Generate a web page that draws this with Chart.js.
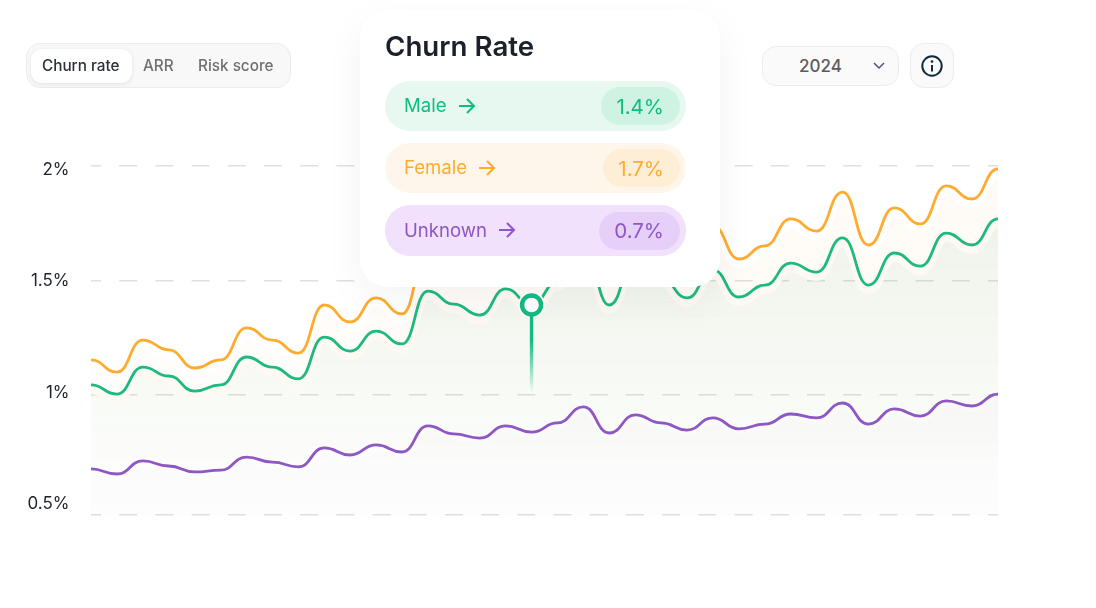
<!DOCTYPE html>
<html>
<head>
<meta charset="utf-8">
<script src="https://cdn.jsdelivr.net/npm/chart.js@4/dist/chart.umd.min.js"></script>
<style>
    html, body { margin: 0; padding: 0; background: #fff; }
    body { width: 1096px; height: 608px; position: relative; overflow: hidden; font-family: Inter, sans-serif; }
    canvas { position: absolute; left: 0; top: 0; }
    .box { position: absolute; box-sizing: border-box; }
    .txt { position: absolute; white-space: nowrap; line-height: 1; }
    .tabs { left: 26px; top: 43px; width: 265px; height: 45px; background: #f8f8f8; border: 1px solid #ececec; border-radius: 14px; }
    .tab-on { left: 31px; top: 49px; width: 101px; height: 34px; background: #fff; border-radius: 11px; box-shadow: 0 1px 4px rgba(0,0,0,.09); }
    .tab { font-size: 15.3px; font-weight: 500; color: #6f6f6f; top: 58px; }
    .select { left: 762px; top: 46px; width: 137px; height: 40px; background: #fafafa; border: 1px solid #ececec; border-radius: 14px; }
    .info { left: 910px; top: 43px; width: 44px; height: 45px; background: #fafafa; border: 1px solid #ececec; border-radius: 14px; }
    .card { left: 360px; top: 10px; width: 360px; height: 277px; background: #fff; border-radius: 28px; box-shadow: 0 14px 40px rgba(40,40,60,.05); }
    .pill { left: 385px; width: 301px; height: 50px; border-radius: 25px; }
    .inner { height: 38px; border-radius: 19px; }
    .name { font-size: 18.6px; left: 404px; }
    .val { font-size: 20.5px; right: 432px; }
    svg { position: absolute; overflow: visible; }
</style>
</head>
<body>
<canvas id="churnChart" width="1096" height="608"></canvas>

<div class="box tabs"></div>
<div class="box tab-on"></div>
<div class="txt tab" style="left:42px;color:#2b303a">Churn rate</div>
<div class="txt tab" style="left:143px">ARR</div>
<div class="txt tab" style="left:198px">Risk score</div>

<div class="box select"></div>
<div class="txt" style="left:799px;top:58px;font-size:17px;font-weight:500;color:#5c5c5c">2024</div>
<svg style="left:873px;top:62px" width="12" height="8"><path d="M1 1l5 5 5-5" fill="none" stroke="#4d5468" stroke-width="1.5"/></svg>
<div class="box info"></div>
<svg style="left:921px;top:55px" width="22" height="22"><circle cx="11" cy="11" r="9.7" fill="none" stroke="#0f2c3c" stroke-width="2"/><path d="M11 10v6.5" stroke="#0f2c3c" stroke-width="2"/><circle cx="11" cy="6.6" r="1.3" fill="#0f2c3c"/></svg>

<div class="box card"></div>
<div class="txt" style="left:385px;top:33px;font-size:27.7px;font-weight:600;color:#1a202c">Churn Rate</div>

<div class="box pill" style="top:81px;background:#e7f8f0"></div>
<div class="box inner" style="left:601px;top:87px;width:79px;background:#cff3e3"></div>
<div class="txt name" style="top:96px;color:#12bb82">Male</div>
<svg style="left:458px;top:97px" width="18" height="18"><path d="M1 9h15M9 2l7 7-7 7" fill="none" stroke="#12bb82" stroke-width="2"/></svg>
<div class="txt val" style="top:97px;color:#12bb82">1.4%</div>

<div class="box pill" style="top:143px;background:#fff6eb"></div>
<div class="box inner" style="left:603px;top:149px;width:77px;background:#ffeed6"></div>
<div class="txt name" style="top:158px;color:#ffab2e">Female</div>
<svg style="left:478px;top:159px" width="18" height="18"><path d="M1 9h15M9 2l7 7-7 7" fill="none" stroke="#ffab2e" stroke-width="2"/></svg>
<div class="txt val" style="top:159px;color:#ffab2e">1.7%</div>

<div class="box pill" style="top:205px;height:51px;background:#f1e1fc"></div>
<div class="box inner" style="left:599px;top:212px;width:81px;background:#e6cff8"></div>
<div class="txt name" style="top:221px;color:#8e57c4">Unknown</div>
<svg style="left:498px;top:221px" width="18" height="18"><path d="M1 9h15M9 2l7 7-7 7" fill="none" stroke="#8e57c4" stroke-width="2"/></svg>
<div class="txt val" style="top:221px;color:#8e57c4">0.7%</div>

<script>
// Churn rate per period
const female = [
    1.153, 1.100, 1.240, 1.197, 1.118, 1.153, 1.293, 1.240, 1.183, 1.393, 1.319, 1.424,
    1.354, 1.633, 1.572, 1.520, 1.642, 1.568, 1.677, 1.865, 1.581, 1.786, 1.690, 1.611,
    1.738, 1.594, 1.651, 1.769, 1.716, 1.886, 1.655, 1.817, 1.747, 1.913, 1.856, 1.987
];
const male = [
    1.044, 1.004, 1.122, 1.083, 1.017, 1.044, 1.166, 1.122, 1.070, 1.253, 1.192, 1.279,
    1.223, 1.454, 1.397, 1.349, 1.463, 1.393, 1.493, 1.655, 1.393, 1.598, 1.511, 1.424,
    1.546, 1.428, 1.480, 1.576, 1.537, 1.686, 1.480, 1.620, 1.563, 1.707, 1.655, 1.769
];
const unknown = [
    0.677, 0.655, 0.712, 0.690, 0.664, 0.672, 0.729, 0.707, 0.686, 0.769, 0.738, 0.782,
    0.751, 0.865, 0.830, 0.812, 0.865, 0.838, 0.878, 0.948, 0.834, 0.913, 0.878, 0.847,
    0.900, 0.852, 0.873, 0.917, 0.900, 0.965, 0.873, 0.939, 0.908, 0.974, 0.952, 1.004
];

const tickLabels = [2, 1.5, 1, 0.5];
const gridLines = [2, 1.5, 1, 0.476];
const markerPeriod = 17;
const stemEndValue = 1.01;

function toPoints(values) {
    return values.map((v, i) => ({ x: i, y: v }));
}

// vertical fade from the top of the plot to its bottom
function fade(from, to) {
    return function(context) {
        const area = context.chart.chartArea;
        if (!area) return from;
        const g = context.chart.ctx.createLinearGradient(0, area.top, 0, area.bottom);
        g.addColorStop(0, from);
        g.addColorStop(1, to);
        return g;
    };
}

function haloSet(values, fillFrom, fillTo, haloColor, width) {
    return {
        data: toPoints(values),
        isHalo: true,
        borderColor: haloColor,
        borderWidth: width,
        backgroundColor: fade(fillFrom, fillTo),
        fill: 'origin',
        pointRadius: 0,
        cubicInterpolationMode: 'monotone'
    };
}

function lineSet(values, color) {
    return {
        data: toPoints(values),
        borderColor: color,
        borderWidth: 2.8,
        fill: false,
        pointRadius: 0,
        cubicInterpolationMode: 'monotone'
    };
}

// the curves leave every point flat, which no built-in mode does
const flatTangents = {
    id: 'flatTangents',
    beforeDatasetsDraw(chart) {
        chart.getSortedVisibleDatasetMetas().forEach(meta => {
            if (!meta.dataset || meta.data.length < 2) return;
            meta.dataset.updateControlPoints(chart.chartArea, 'x');
            const half = (meta.data[1].x - meta.data[0].x) / 2;
            meta.data.forEach(p => {
                p.cp1x = p.x - half;
                p.cp1y = p.y;
                p.cp2x = p.x + half;
                p.cp2y = p.y;
            });
        });
    }
};

// halos sit a little below their line
const haloShift = {
    id: 'haloShift',
    beforeDatasetDraw(chart, args) {
        if (chart.data.datasets[args.index].isHalo) {
            chart.ctx.save();
            chart.ctx.translate(0, 4);
        }
    },
    afterDatasetDraw(chart, args) {
        if (chart.data.datasets[args.index].isHalo) chart.ctx.restore();
    }
};

// white ring and fading stem under the selected point
const markerStem = {
    id: 'markerStem',
    beforeDatasetDraw(chart, args) {
        if (!chart.data.datasets[args.index].isMarker) return;
        const ctx = chart.ctx;
        const x = chart.scales.x.getPixelForValue(markerPeriod);
        const top = chart.scales.y.getPixelForValue(male[markerPeriod]);
        const bottom = chart.scales.y.getPixelForValue(stemEndValue);
        ctx.save();
        ctx.fillStyle = '#fff';
        ctx.beginPath();
        ctx.arc(x, top, 13.5, 0, Math.PI * 2);
        ctx.fill();
        const g = ctx.createLinearGradient(0, top, 0, bottom);
        g.addColorStop(0, '#12bb82');
        g.addColorStop(0.4, '#12bb82');
        g.addColorStop(1, 'rgba(18,187,130,0)');
        ctx.strokeStyle = g;
        ctx.lineWidth = 3.4;
        ctx.beginPath();
        ctx.moveTo(x, top);
        ctx.lineTo(x, bottom);
        ctx.stroke();
        ctx.restore();
    }
};

const ctx = document.getElementById('churnChart').getContext('2d');
new Chart(ctx, {
    type: 'line',
    data: {
        datasets: [
            Object.assign(haloSet(female, 'rgba(255,165,60,0.06)', 'rgba(255,165,60,0)', 'rgba(255,255,255,0.95)', 10), { order: 6 }),
            Object.assign(lineSet(female, '#ffab2e'), { order: 5 }),
            Object.assign(haloSet(male, 'rgba(40,160,90,0.09)', 'rgba(40,160,90,0)', 'rgba(255,250,243,0.9)', 10), { order: 4 }),
            Object.assign(lineSet(male, '#1cba80'), { order: 3 }),
            Object.assign(haloSet(unknown, 'rgba(120,80,150,0.025)', 'rgba(120,80,150,0.012)', 'rgba(255,255,255,0.3)', 5), { order: 2 }),
            Object.assign(lineSet(unknown, '#8e57c4'), { order: 1 }),
            {
                data: [{ x: markerPeriod, y: male[markerPeriod] }],
                isMarker: true,
                order: 0,
                showLine: false,
                pointRadius: 9.5,
                pointBorderWidth: 4.4,
                pointBackgroundColor: '#fff',
                pointBorderColor: '#12bb82'
            }
        ]
    },
    options: {
        responsive: false,
        animation: false,
        events: [],
        layout: { padding: { left: 0, right: 98, top: 166, bottom: 93 } },
        plugins: { legend: { display: false }, tooltip: { enabled: false } },
        scales: {
            x: { type: 'linear', min: 0, max: 35, display: false },
            y: {
                position: 'left',
                min: 0.476,
                max: 2,
                afterBuildTicks: axis => { axis.ticks = gridLines.map(v => ({ value: v })); },
                ticks: { display: false },
                grid: { color: '#e0e0de', lineWidth: 1.5, drawTicks: false },
                border: { display: false, dash: [18, 18.2], dashOffset: 8 }
            },
            // labels do not line up with the dashes in the picture, so they get their own axis
            labels: {
                position: 'left',
                min: 0.4506,
                max: 2.018,
                afterBuildTicks: axis => { axis.ticks = tickLabels.map(v => ({ value: v })); },
                afterFit: axis => { axis.width = 91; axis.paddingTop = 0; axis.paddingBottom = 0; },
                ticks: {
                    padding: 21.5,
                    color: '#1d2230',
                    font: { family: 'Inter', size: 17 },
                    callback: value => value + '%'
                },
                grid: { display: false, drawTicks: false },
                border: { display: false }
            }
        }
    },
    plugins: [flatTangents, haloShift, markerStem]
});
</script>
</body>
</html>
